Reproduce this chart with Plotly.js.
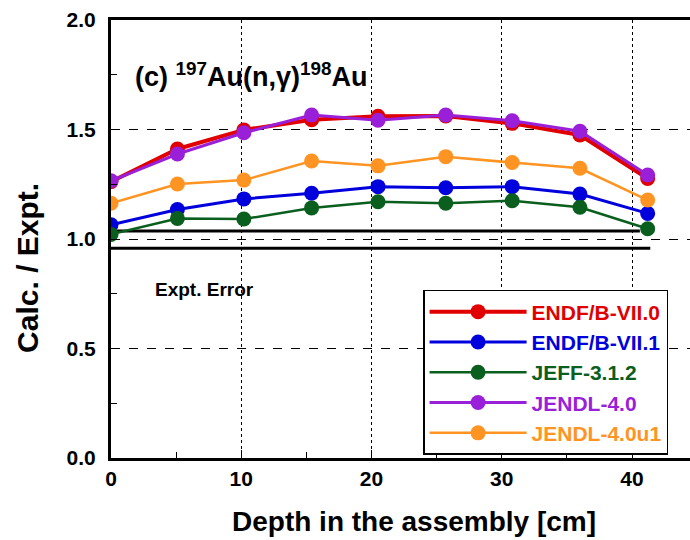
<!DOCTYPE html>
<html>
<head>
<meta charset="utf-8">
<script src="https://cdn.plot.ly/plotly-3.0.1.min.js"></script>
<style>html,body{margin:0;padding:0;background:#fff}#chart{width:690px;height:540px}</style>
</head>
<body>
<div id="chart"></div>
<script>
// Depth positions [cm]
const depth = [0, 5.1, 10.2, 15.4, 20.5, 25.7, 30.8, 36.0, 41.2];
// C/E values per library
const endf70  = [1.262, 1.411, 1.498, 1.545, 1.560, 1.562, 1.528, 1.475, 1.276];
const endf71  = [1.065, 1.135, 1.183, 1.209, 1.239, 1.234, 1.239, 1.205, 1.117];
const jeff312 = [1.021, 1.094, 1.091, 1.142, 1.170, 1.163, 1.175, 1.145, 1.047];
const jendl40 = [1.266, 1.388, 1.485, 1.566, 1.542, 1.566, 1.540, 1.492, 1.292];
const jendl40u1 = [1.163, 1.251, 1.269, 1.356, 1.334, 1.376, 1.349, 1.323, 1.178];
const libNames = ["ENDF/B-VII.0", "ENDF/B-VII.1", "JEFF-3.1.2", "JENDL-4.0", "JENDL-4.0u1"];
// Experimental error band lines
const errUpperX = [0, 40.6], errUpperY = [1.037, 1.037];
const errLowerX = [0, 41.4], errLowerY = [0.958, 0.958];
const xTicks = [0, 10, 20, 30, 40];
const yTicks = [0.0, 0.5, 1.0, 1.5, 2.0];

const FONT = "Liberation Sans, Arial, sans-serif";
const colors = ["#e00000", "#0000dd", "#0a5e1e", "#9a1fd8", "#ff9422"];
const widths = [4, 3, 2.5, 3, 2.5];
const series = [endf70, endf71, jeff312, jendl40, jendl40u1];

const traces = [
  {x: errUpperX, y: errUpperY, mode: "lines", line: {color: "#000", width: 3}, showlegend: false, hoverinfo: "skip"},
  {x: errLowerX, y: errLowerY, mode: "lines", line: {color: "#000", width: 3}, showlegend: false, hoverinfo: "skip"}
];
series.forEach((s, i) => {
  traces.push({
    x: depth, y: s, mode: "lines+markers",
    name: '<span style="color:' + colors[i] + '">' + libNames[i] + '</span>',
    line: {color: colors[i], width: widths[i]},
    marker: {color: colors[i], size: 15}
  });
});

const layout = {
  width: 690, height: 540,
  margin: {l: 111, r: 0, t: 20, b: 82},
  paper_bgcolor: "#fff", plot_bgcolor: "#fff",
  font: {family: FONT, color: "#000", weight: "bold"},
  showlegend: true,
  legend: {
    x: 0.539, y: 0.3836, xanchor: "left", yanchor: "top",
    bgcolor: "#fff", bordercolor: "#000", borderwidth: 1.5,
    font: {family: FONT, size: 21, weight: "bold"},
    itemwidth: 97, tracegroupgap: 0
  },
  xaxis: {
    range: [0, 44.45], tickvals: xTicks, ticktext: xTicks.map(String),
    ticks: "inside", ticklen: 8, tickwidth: 1, tickcolor: "#000",
    showline: true, linewidth: 3, linecolor: "#000", mirror: true,
    showgrid: true, gridcolor: "#000", griddash: "dot", gridwidth: 1,
    zeroline: false,
    minor: {dtick: 5, ticks: "inside", ticklen: 6, tickcolor: "#000", showgrid: false},
    tickfont: {family: FONT, size: 21, weight: "bold"}
  },
  yaxis: {
    range: [0, 2.0], tickvals: yTicks, ticktext: yTicks.map(v => v.toFixed(1)),
    ticks: "inside", ticklen: 8, tickwidth: 1, tickcolor: "#000",
    showline: true, linewidth: 3, linecolor: "#000", mirror: false,
    showgrid: true, gridcolor: "#000", griddash: "dash", gridwidth: 1,
    zeroline: false,
    minor: {dtick: 0.25, ticks: "inside", ticklen: 6, tickcolor: "#000", showgrid: false},
    tickfont: {family: FONT, size: 21, weight: "bold"},
    ticklabelstandoff: 8
  },
  annotations: [
    {xref: "paper", yref: "paper", x: 0.038, y: 0.874, xanchor: "left", yanchor: "middle", showarrow: false,
     text: "(c) <sup>197</sup>Au(n,γ)<sup>198</sup>Au", font: {family: FONT, size: 27, weight: "bold"}},
    {xref: "paper", yref: "paper", x: 0.072, y: 0.3836, xanchor: "left", yanchor: "middle", showarrow: false,
     text: "Expt. Error", font: {family: FONT, size: 19, weight: "bold"}},
    {xref: "paper", yref: "paper", x: 0.524, y: -0.146, xanchor: "center", yanchor: "middle", showarrow: false,
     text: "Depth in the assembly [cm]", font: {family: FONT, size: 28, weight: "bold"}},
    {xref: "paper", yref: "paper", x: -0.1434, y: 0.434, xanchor: "center", yanchor: "middle", showarrow: false,
     textangle: -90, text: "Calc. / Expt.", font: {family: FONT, size: 30, weight: "bold"}}
  ]
};
Plotly.newPlot("chart", traces, layout, {displayModeBar: false, staticPlot: true});
</script>
</body>
</html>
